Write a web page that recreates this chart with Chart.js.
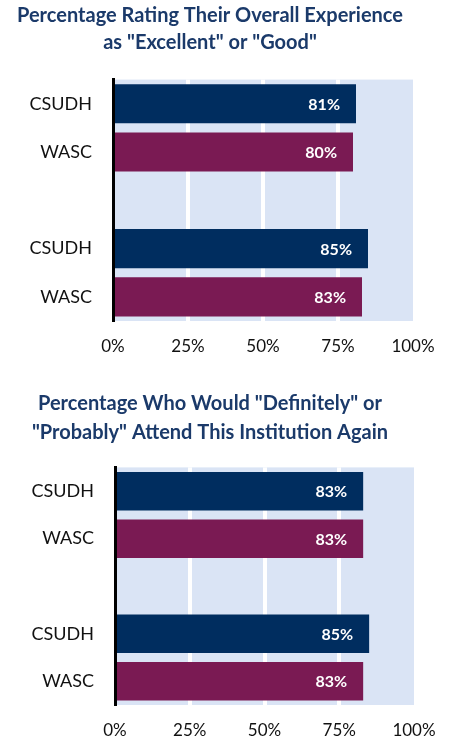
<!DOCTYPE html>
<html>
<head>
<meta charset="utf-8">
<script src="https://cdn.jsdelivr.net/npm/chart.js@4"></script>
<style>
  html, body { margin: 0; padding: 0; background: #fff; }
  .box { position: absolute; left: 0; width: 451px; height: 370px; }
  #box1 { top: 0; }
  #box2 { top: 370px; }
</style>
</head>
<body>
<div class="box" id="box1"><canvas id="chart1"></canvas></div>
<div class="box" id="box2"><canvas id="chart2"></canvas></div>
<script>
const categories = ["CSUDH", "WASC", "", "CSUDH", "WASC"];
const experienceValues = [81, 80, null, 85, 83];
const attendAgainValues = [83, 83, null, 85, 83];
const xTicks = [0, 25, 50, 75, 100];

const title1 = ["Percentage Rating Their Overall Experience", 'as "Excellent" or "Good"'];
const title2 = ['Percentage Who Would "Definitely" or', '"Probably" Attend This Institution Again'];

const colorFor = { CSUDH: "#002D5F", WASC: "#7A1A53" };
const FONT = "Lato, 'Open Sans', sans-serif";

const plotBg = {
  id: "plotBg",
  beforeDraw(chart) {
    const { ctx, chartArea: a } = chart;
    ctx.save();
    ctx.fillStyle = "#DAE4F5";
    ctx.fillRect(a.left, a.top, a.right - a.left, a.bottom - a.top);
    ctx.restore();
  },
};

const barLabels = {
  id: "barLabels",
  afterDatasetsDraw(chart) {
    const { ctx } = chart;
    const meta = chart.getDatasetMeta(0);
    ctx.save();
    ctx.fillStyle = "#ffffff";
    ctx.font = "bold 16px " + FONT;
    ctx.textAlign = "right";
    ctx.textBaseline = "middle";
    meta.data.forEach((bar, i) => {
      const v = chart.data.datasets[0].data[i];
      if (v == null) return;
      ctx.fillText(v + "%", bar.x - 16, bar.y + 1);
    });
    ctx.restore();
  },
};

function makeChart(canvasId, values, titleLines, opts) {
  return new Chart(document.getElementById(canvasId), {
    type: "bar",
    data: {
      labels: categories,
      datasets: [
        {
          data: values,
          backgroundColor: categories.map((c) => colorFor[c] || "transparent"),
          barPercentage: 0.81,
          categoryPercentage: 1,
        },
      ],
    },
    options: {
      indexAxis: "y",
      responsive: true,
      maintainAspectRatio: false,
      animation: false,
      layout: { padding: { left: opts.padLeft, right: opts.padRight, top: 0, bottom: 0 } },
      plugins: {
        legend: { display: false },
        tooltip: { enabled: false },
        title: {
          display: true,
          text: titleLines,
          color: "#1B3A6A",
          font: { family: FONT, size: 20, weight: "bold", lineHeight: opts.titleLineHeight },
          padding: { top: opts.titleTop, bottom: opts.titleBottom },
        },
      },
      scales: {
        x: {
          min: 0,
          max: 100,
          afterBuildTicks: (s) => { s.ticks = xTicks.map((v) => ({ value: v })); },
          afterFit: (s) => { s.height = opts.xAxisHeight; },
          ticks: {
            color: "#111",
            font: { family: FONT, size: 17 },
            padding: 15,
            callback: (v) => v + "%",
          },
          grid: {
            color: (c) => (c.tick && c.tick.value > 0 && c.tick.value < 100 ? "#ffffff" : "rgba(0,0,0,0)"),
            lineWidth: 4,
            drawTicks: false,
          },
          border: { display: false },
        },
        y: {
          afterFit: (s) => { s.width = opts.yAxisWidth; },
          ticks: {
            color: "#111",
            font: { family: FONT, size: 18 },
            padding: 21,
          },
          grid: { display: false, drawTicks: false },
          border: { display: true, color: "#000", width: 3 },
        },
      },
    },
    plugins: [plotBg, barLabels],
  });
}

makeChart("chart1", experienceValues, title1, {
  padLeft: 7, padRight: 38, yAxisWidth: 106, xAxisHeight: 49,
  titleLineHeight: 1.365, titleTop: 2, titleBottom: 23,
});
makeChart("chart2", attendAgainValues, title2, {
  padLeft: 6, padRight: 37, yAxisWidth: 109, xAxisHeight: 35,
  titleLineHeight: 1.435, titleTop: 19, titleBottom: 21,
});
</script>
</body>
</html>
